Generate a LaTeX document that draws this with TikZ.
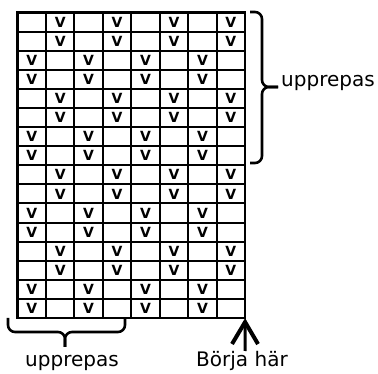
\documentclass[tikz,border=0pt]{standalone}
\usepackage{fontspec}
\setmainfont{DejaVu Sans}
\usetikzlibrary{arrows.meta}

\tikzset{
  rutnat/.style={line width=2pt},
  kant/.style={line width=2.6pt},
  maska/.style={inner sep=0pt,font=\fontsize{14}{14}\selectfont\bfseries},
  klammer/.style={line width=2.6pt,rounded corners=7pt},
  etikett/.style={inner sep=0pt,font=\fontsize{20}{20}\selectfont},
}

\begin{document}
\begin{tikzpicture}[x=1pt,y=-1pt,>={Straight Barb[length=22pt,width=26pt,line width=4pt]}]
	\useasboundingbox (0,0) rectangle (378,374);
	
	% diagram: 8 maskor x 16 varv
	\begin{scope}[shift={(17.5,12.5)},x=28.45pt,y=-19.1pt]
		\foreach \i in {1,...,7} \draw[rutnat] (\i,0) -- (\i,16);
		\foreach \j in {1,...,15} \draw[rutnat] (0,\j) -- (8,\j);
		\draw[kant] (0,0) rectangle (8,16);
		\coordinate (horn) at (8,16);
		
		\foreach \r in {0,1,4,5,8,9,12,13}
			\foreach \c in {2,4,6,8}
				\node[maska] (v-\r-\c) at (\c-0.5,\r+0.5) {V};
		\foreach \r in {2,3,6,7,10,11,14,15}
			\foreach \c in {1,3,5,7}
				\node[maska] (v-\r-\c) at (\c-0.5,\r+0.5) {V};
	\end{scope}
	
	% klammer till hoger
	\draw[klammer] (250,12) -| (262,87) -- (278,87);
	\draw[klammer] (250,163) -| (262,87) -- (278,87);
	\node[etikett,anchor=base west] (upprepas-h) at (281,87) {upprepas};
	
	% klammer under
	\draw[klammer] (8,318) |- (65,332) -- (65,347);
	\draw[klammer] (125,318) |- (65,332) -- (65,347);
	\node[etikett,anchor=base] (upprepas-u) at (72,367) {upprepas};
	
	% start
	\node[etikett,anchor=base] (borja) at (242,367) {Börja här};
	\coordinate (pil) at (245,351);
	\draw[->,line width=3pt] (pil) -- (horn);
\end{tikzpicture}
\end{document}
